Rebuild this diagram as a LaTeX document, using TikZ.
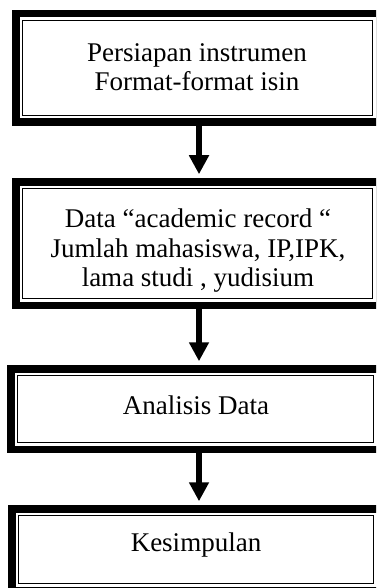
\documentclass[tikz,border=0pt]{standalone}
\usepackage{fontspec}
\setmainfont{Liberation Serif}
\usetikzlibrary{arrows.meta}
\tikzset{
  dbox/.style={draw=black, line width=7.5pt, rectangle, inner sep=0pt, fill=white},
  innerline/.style={draw=black, line width=1.7pt},
  txt/.style={align=center, inner sep=0pt, font=\fontsize{27}{29.5}\selectfont},
  arr/.style={draw=black, line width=5.8pt, -{Triangle[width=19pt,length=19pt]}}
}
\begin{document}
\begin{tikzpicture}[x=1pt,y=-1pt]
\useasboundingbox (0,0) rectangle (376,588);
\fill[white] (0,0) rectangle (376,588);
\clip (0,0) rectangle (376,588);
% boxes
\node[dbox, minimum width=363.5pt, minimum height=108.5pt] (b1) at (197.5,68) {};
\node[dbox, minimum width=363.5pt, minimum height=123.5pt] (b2) at (197.5,243.5) {};
\node[dbox, minimum width=369.5pt, minimum height=80.5pt] (b3) at (195.5,409) {};
\node[dbox, minimum width=368.5pt, minimum height=81.5pt] (b4) at (196,549.5) {};
% inner thin frames
\draw[innerline] (22.6,20.6) rectangle (372.4,115.4);
\draw[innerline] (22.6,188.6) rectangle (372.4,298.4);
\draw[innerline] (17.6,375.6) rectangle (373.4,442.4);
\draw[innerline] (18.6,515.6) rectangle (373.4,583.4);
% texts
\node[txt] (t1) at (197,67) {Persiapan instrumen\\Format-format isin};
\node[txt] (t2) at (198,251) {Data “academic record “\\Jumlah mahasiswa, IP,IPK,\\lama studi , yudisium};
\node[txt] (t3) at (196,405) {Analisis Data};
\node[txt] (t4) at (196,545) {Kesimpulan};
% connectors
\draw[arr] ([xshift=1.5pt]b1.south) -- ([xshift=1.5pt,yshift=3.75pt]b2.north);
\draw[arr] ([xshift=1.5pt]b2.south) -- ([xshift=3.5pt,yshift=3.75pt]b3.north);
\draw[arr] ([xshift=3.5pt]b3.south) -- ([xshift=3pt,yshift=3.75pt]b4.north);
\end{tikzpicture}
\end{document}
